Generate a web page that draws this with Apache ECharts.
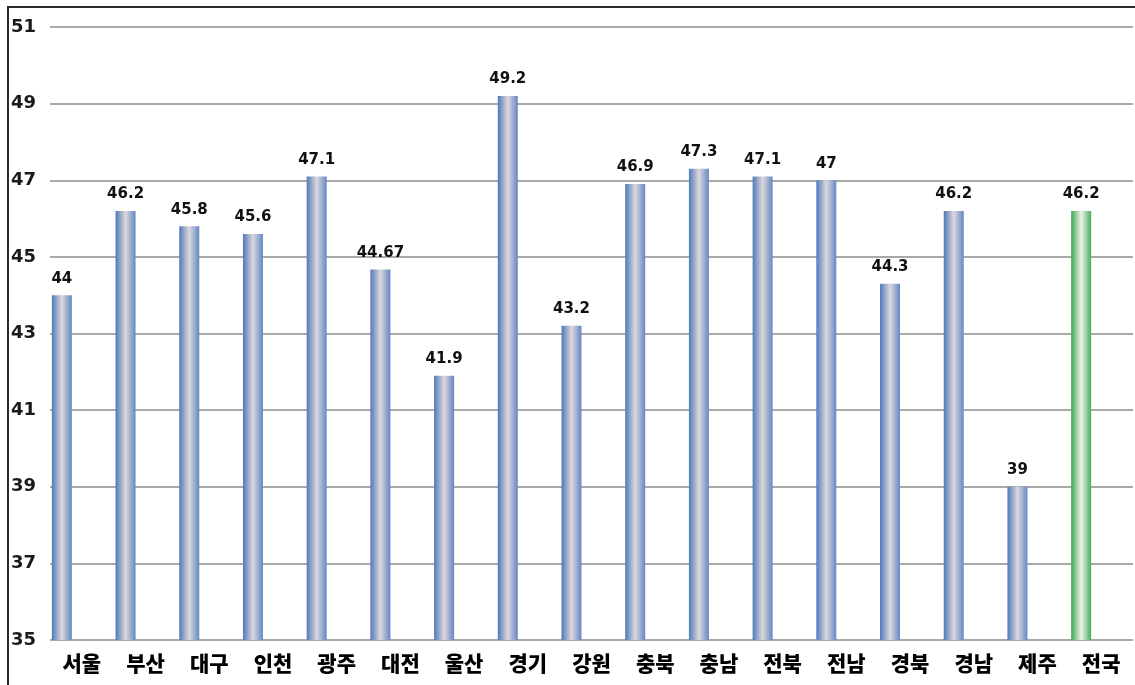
<!DOCTYPE html>
<html>
<head>
<meta charset="utf-8">
<script src="https://cdn.jsdelivr.net/npm/echarts@6/dist/echarts.min.js"></script>
<style>
  html, body { margin: 0; padding: 0; background: #fff; }
  #chart { width: 1135px; height: 685px; }
</style>
</head>
<body>
<div id="chart"></div>
<script>
// Regions (시도) and their values; the last one is the national figure
const regions = ['서울', '부산', '대구', '인천', '광주', '대전', '울산', '경기', '강원', '충북', '충남', '전북', '전남', '경북', '경남', '제주', '전국'];
const values = [44, 46.2, 45.8, 45.6, 47.1, 44.67, 41.9, 49.2, 43.2, 46.9, 47.3, 47.1, 47, 44.3, 46.2, 39, 46.2];
// Empty companion series keeps the bars left of each category centre
const spacer = regions.map(() => null);
const yTicks = { min: 35, max: 51, interval: 2 };

const blueBar = new echarts.graphic.LinearGradient(0, 0, 1, 0, [
  { offset: 0, color: '#5079b8' },
  { offset: 0.5, color: '#dcd8dc' },
  { offset: 1, color: '#6388c4' }
]);
const greenBar = new echarts.graphic.LinearGradient(0, 0, 1, 0, [
  { offset: 0, color: '#3aa94f' },
  { offset: 0.5, color: '#eef3e8' },
  { offset: 1, color: '#43b05a' }
]);

const chart = echarts.init(document.getElementById('chart'), null, { renderer: 'canvas' });
chart.setOption({
  backgroundColor: '#fff',
  animation: false,
  graphic: [{
    type: 'rect',
    shape: { x: 8, y: 7, width: 1150, height: 700 },
    style: { fill: 'none', stroke: '#2b2b2b', lineWidth: 2 },
    z: 100
  }],
  grid: { left: 50, right: 2, top: 27, bottom: 45, containLabel: false },
  xAxis: {
    type: 'category',
    data: regions,
    axisLine: { show: false },
    axisTick: { show: false },
    axisLabel: {
      margin: 13,
      color: '#000',
      fontSize: 21,
      fontWeight: 900,
      fontFamily: '"Noto Sans CJK KR", sans-serif'
    }
  },
  yAxis: {
    type: 'value',
    min: yTicks.min,
    max: yTicks.max,
    interval: yTicks.interval,
    axisLine: { show: false },
    axisTick: { show: false },
    axisLabel: {
      margin: 14,
      color: '#1a1a1a',
      fontSize: 18,
      fontWeight: 'bold',
      fontFamily: '"DejaVu Sans", sans-serif'
    },
    splitLine: { lineStyle: { color: '#8c8c8c', width: 1.5 } }
  },
  series: [
    {
      type: 'bar',
      data: values.map((v, i) => i === regions.length - 1
        ? { value: v, itemStyle: { color: greenBar } }
        : v),
      barWidth: 20,
      barGap: '100%',
      itemStyle: { color: blueBar },
      label: {
        show: true,
        position: 'top',
        distance: 9,
        color: '#111',
        fontSize: 15,
        fontWeight: 'bold',
        fontFamily: '"DejaVu Sans", sans-serif'
      }
    },
    {
      type: 'bar',
      data: spacer,
      barWidth: 20
    }
  ]
});
</script>
</body>
</html>
